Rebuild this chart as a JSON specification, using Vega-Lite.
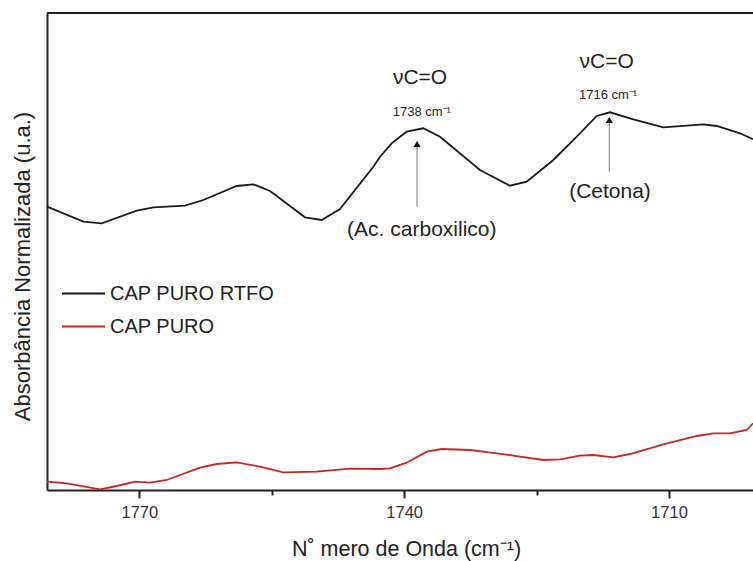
{
  "$schema": "https://vega.github.io/schema/vega-lite/v6.json",
  "width": 706,
  "height": 477,
  "autosize": {"type": "none"},
  "padding": {"left": 47, "top": 13, "right": 0, "bottom": 71},
  "config": {"view": {"stroke": null}, "font": "Liberation Sans"},
  "datasets": {
    "spectra": [
      {"series": "CAP PURO RTFO", "wn": 1780.46, "a": 283.3},
      {"series": "CAP PURO RTFO", "wn": 1776.34, "a": 268.3},
      {"series": "CAP PURO RTFO", "wn": 1774.26, "a": 266.7},
      {"series": "CAP PURO RTFO", "wn": 1770.29, "a": 279.3},
      {"series": "CAP PURO RTFO", "wn": 1768.41, "a": 282.7},
      {"series": "CAP PURO RTFO", "wn": 1764.82, "a": 284.3},
      {"series": "CAP PURO RTFO", "wn": 1762.75, "a": 290.0},
      {"series": "CAP PURO RTFO", "wn": 1758.97, "a": 304.0},
      {"series": "CAP PURO RTFO", "wn": 1757.09, "a": 305.7},
      {"series": "CAP PURO RTFO", "wn": 1755.19, "a": 299.0},
      {"series": "CAP PURO RTFO", "wn": 1751.23, "a": 272.7},
      {"series": "CAP PURO RTFO", "wn": 1749.34, "a": 270.0},
      {"series": "CAP PURO RTFO", "wn": 1747.27, "a": 281.0},
      {"series": "CAP PURO RTFO", "wn": 1743.49, "a": 323.3},
      {"series": "CAP PURO RTFO", "wn": 1742.73, "a": 333.3},
      {"series": "CAP PURO RTFO", "wn": 1741.41, "a": 346.7},
      {"series": "CAP PURO RTFO", "wn": 1740.47, "a": 353.3},
      {"series": "CAP PURO RTFO", "wn": 1739.71, "a": 358.3},
      {"series": "CAP PURO RTFO", "wn": 1737.83, "a": 361.7},
      {"series": "CAP PURO RTFO", "wn": 1735.94, "a": 353.3},
      {"series": "CAP PURO RTFO", "wn": 1731.41, "a": 320.0},
      {"series": "CAP PURO RTFO", "wn": 1728.01, "a": 304.3},
      {"series": "CAP PURO RTFO", "wn": 1726.12, "a": 308.3},
      {"series": "CAP PURO RTFO", "wn": 1723.10, "a": 330.0},
      {"series": "CAP PURO RTFO", "wn": 1720.08, "a": 356.7},
      {"series": "CAP PURO RTFO", "wn": 1718.19, "a": 374.0},
      {"series": "CAP PURO RTFO", "wn": 1716.68, "a": 377.7},
      {"series": "CAP PURO RTFO", "wn": 1714.04, "a": 370.7},
      {"series": "CAP PURO RTFO", "wn": 1710.64, "a": 362.7},
      {"series": "CAP PURO RTFO", "wn": 1706.11, "a": 365.7},
      {"series": "CAP PURO RTFO", "wn": 1704.59, "a": 364.0},
      {"series": "CAP PURO RTFO", "wn": 1701.95, "a": 356.7},
      {"series": "CAP PURO RTFO", "wn": 1700.48, "a": 350.7},
      {"series": "CAP PURO", "wn": 1780.46, "a": 8.3},
      {"series": "CAP PURO", "wn": 1778.22, "a": 6.7},
      {"series": "CAP PURO", "wn": 1774.45, "a": 0.7},
      {"series": "CAP PURO", "wn": 1772.56, "a": 4.0},
      {"series": "CAP PURO", "wn": 1770.49, "a": 8.3},
      {"series": "CAP PURO", "wn": 1768.79, "a": 7.3},
      {"series": "CAP PURO", "wn": 1766.90, "a": 10.0},
      {"series": "CAP PURO", "wn": 1763.12, "a": 22.3},
      {"series": "CAP PURO", "wn": 1761.23, "a": 26.0},
      {"series": "CAP PURO", "wn": 1758.97, "a": 27.7},
      {"series": "CAP PURO", "wn": 1756.33, "a": 23.3},
      {"series": "CAP PURO", "wn": 1753.69, "a": 17.7},
      {"series": "CAP PURO", "wn": 1749.90, "a": 18.3},
      {"series": "CAP PURO", "wn": 1746.13, "a": 21.3},
      {"series": "CAP PURO", "wn": 1742.73, "a": 21.0},
      {"series": "CAP PURO", "wn": 1741.60, "a": 21.7},
      {"series": "CAP PURO", "wn": 1739.71, "a": 27.3},
      {"series": "CAP PURO", "wn": 1737.45, "a": 38.3},
      {"series": "CAP PURO", "wn": 1735.75, "a": 41.0},
      {"series": "CAP PURO", "wn": 1732.54, "a": 40.0},
      {"series": "CAP PURO", "wn": 1729.51, "a": 36.7},
      {"series": "CAP PURO", "wn": 1724.24, "a": 30.0},
      {"series": "CAP PURO", "wn": 1722.35, "a": 30.7},
      {"series": "CAP PURO", "wn": 1720.08, "a": 34.3},
      {"series": "CAP PURO", "wn": 1718.57, "a": 35.0},
      {"series": "CAP PURO", "wn": 1716.31, "a": 32.7},
      {"series": "CAP PURO", "wn": 1714.42, "a": 36.0},
      {"series": "CAP PURO", "wn": 1710.64, "a": 45.7},
      {"series": "CAP PURO", "wn": 1706.86, "a": 54.0},
      {"series": "CAP PURO", "wn": 1704.98, "a": 56.7},
      {"series": "CAP PURO", "wn": 1703.09, "a": 56.7},
      {"series": "CAP PURO", "wn": 1701.20, "a": 60.0},
      {"series": "CAP PURO", "wn": 1700.48, "a": 66.7}
    ],
    "labels": [
      {"wn": 1738.2, "a": 412.0, "text": "νC=O", "size": 21},
      {"wn": 1738.0, "a": 378.3, "text": "1738 cm⁻¹", "size": 13},
      {"wn": 1738.0, "a": 260.0, "text": "(Ac. carboxilico)", "size": 21},
      {"wn": 1717.05, "a": 428.3, "text": "νC=O", "size": 21},
      {"wn": 1716.9, "a": 395.0, "text": "1716 cm⁻¹", "size": 13},
      {"wn": 1716.68, "a": 298.3, "text": "(Cetona)", "size": 21}
    ],
    "arrows": [
      {"wn": 1738.54, "a0": 283.3, "a1": 346.0},
      {"wn": 1716.76, "a0": 318.3, "a1": 370.0}
    ]
  },
  "layer": [
    {
      "data": {"name": "spectra"},
      "mark": {"type": "line", "strokeWidth": 1.8},
      "encoding": {
        "x": {
          "field": "wn", "type": "quantitative",
          "scale": {"domain": [1700.48, 1780.46], "reverse": true, "nice": false, "zero": false},
          "axis": {
            "orient": "bottom",
            "values": [1770, 1755, 1740, 1725, 1710],
            "labelExpr": "datum.value % 30 == 0 ? datum.value : ''",
            "grid": false,
            "domainWidth": 2, "domainColor": "#222",
            "tickColor": "#222", "tickWidth": 2,
            "tickSize": {"condition": {"test": "datum.value % 30 == 0", "value": 8}, "value": 5},
            "labelFontSize": 16.5, "labelColor": "#333", "labelPadding": 6,
            "title": "N˚ mero de Onda (cm⁻¹)",
            "titleFontSize": 21.5, "titleFontWeight": "normal", "titleColor": "#222",
            "titleBaseline": "middle", "titleY": 59, "titleX": 359
          }
        },
        "y": {
          "field": "a", "type": "quantitative",
          "scale": {"domain": [0, 477], "nice": false, "zero": false},
          "axis": {
            "orient": "left", "grid": false, "ticks": false, "labels": false,
            "domainWidth": 2, "domainColor": "#222",
            "title": "Absorbância Normalizada (u.a.)",
            "titleFontSize": 22, "titleFontWeight": "normal", "titleColor": "#222",
            "titleBaseline": "middle", "titleAngle": -90, "titleX": -25, "titleY": 253
          }
        },
        "color": {
          "field": "series", "type": "nominal",
          "scale": {"domain": ["CAP PURO RTFO", "CAP PURO"], "range": ["#1a1a1a", "#c62828"]},
          "legend": {
            "orient": "none", "legendX": 14, "legendY": 258, "padding": 0,
            "title": null, "symbolType": "stroke", "symbolSize": 1849, "symbolStrokeWidth": 2,
            "labelFontSize": 20, "labelColor": "#222", "labelOffset": 4, "labelLimit": 400,
            "rowPadding": -25
          }
        }
      }
    },
    {
      "data": {"values": [{}]},
      "mark": {"type": "rule", "color": "#222", "strokeWidth": 2},
      "encoding": {
        "y": {"datum": 477, "type": "quantitative"}
      }
    },
    {
      "data": {"name": "arrows"},
      "mark": {"type": "rule", "color": "#777", "strokeWidth": 1},
      "encoding": {
        "x": {"field": "wn", "type": "quantitative"},
        "y": {"field": "a0", "type": "quantitative"},
        "y2": {"field": "a1"}
      }
    },
    {
      "data": {"name": "arrows"},
      "mark": {"type": "point", "shape": "triangle-up", "filled": true, "color": "#111", "size": 50, "opacity": 1},
      "encoding": {
        "x": {"field": "wn", "type": "quantitative"},
        "y": {"field": "a1", "type": "quantitative"}
      }
    },
    {
      "data": {"name": "labels"},
      "mark": {"type": "text", "color": "#222", "baseline": "middle", "align": "center"},
      "encoding": {
        "x": {"field": "wn", "type": "quantitative"},
        "y": {"field": "a", "type": "quantitative"},
        "text": {"field": "text"},
        "size": {"field": "size", "type": "quantitative", "scale": null}
      }
    }
  ]
}
